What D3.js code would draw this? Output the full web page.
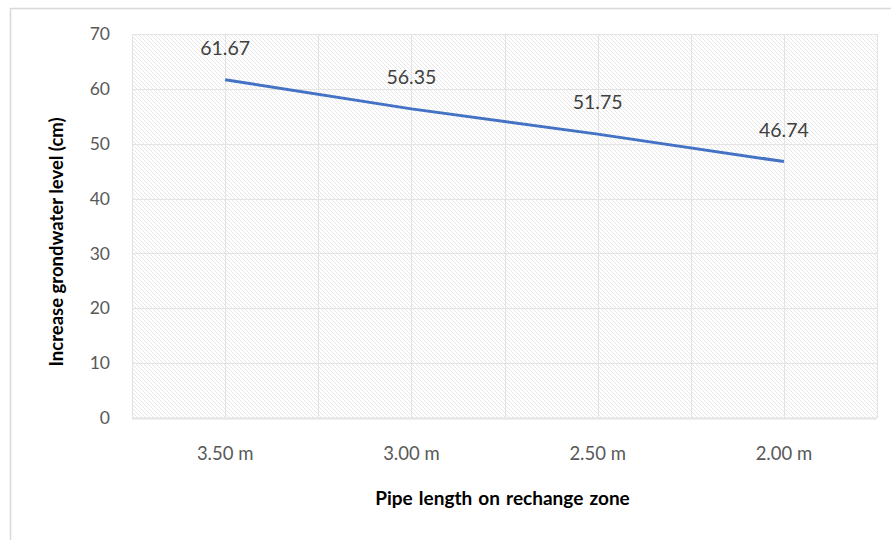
<!DOCTYPE html>
<html>
<head>
<meta charset="utf-8">
<script src="https://cdn.jsdelivr.net/npm/d3@7"></script>
<style>
  html, body { margin: 0; padding: 0; background: #fff; }
  svg { display: block; font-family: Lato, "Open Sans", sans-serif; }
</style>
</head>
<body>
<svg id="chart" width="891" height="540"></svg>
<script>
// Pipe lengths on the recharge zone and the measured groundwater rise
const categories = ["3.50 m", "3.00 m", "2.50 m", "2.00 m"];
const values = [61.67, 56.35, 51.75, 46.74];
const yTicks = [0, 10, 20, 30, 40, 50, 60, 70];

const svg = d3.select("#chart");
const W = 891, H = 540;
const plot = { left: 132, right: 877, top: 34, bottom: 418 };
const FONT = "Lato, 'Open Sans', sans-serif";

// outer frame of the chart area
svg.append("rect")
  .attr("x", 10.5).attr("y", 8.5)
  .attr("width", W + 10).attr("height", H + 10)
  .attr("fill", "#fff").attr("stroke", "#d9d9d9").attr("stroke-width", 1.5);

// light diagonal hatch fill for the plot area
const defs = svg.append("defs");
const pat = defs.append("pattern")
  .attr("id", "hatch").attr("patternUnits", "userSpaceOnUse")
  .attr("width", 4).attr("height", 4);
pat.append("rect").attr("width", 4).attr("height", 4).attr("fill", "#fff");
pat.append("path")
  .attr("d", "M-1,-1 L5,5 M-1,3 L1,5 M3,-1 L5,1")
  .attr("stroke", "#e4e4e4").attr("stroke-width", 0.9);

const x = d3.scaleBand().domain(categories)
  .range([plot.left, plot.right]).paddingInner(0).paddingOuter(0);
const y = d3.scaleLinear().domain([0, 70]).range([plot.bottom, plot.top]);

svg.append("rect")
  .attr("x", plot.left).attr("y", plot.top)
  .attr("width", plot.right - plot.left).attr("height", plot.bottom - plot.top)
  .attr("fill", "url(#hatch)");

// horizontal gridlines
svg.append("g").selectAll("line").data(yTicks).join("line")
  .attr("x1", plot.left).attr("x2", plot.right)
  .attr("y1", d => Math.round(y(d)) + 0.5).attr("y2", d => Math.round(y(d)) + 0.5)
  .attr("stroke", "#e3e3e3").attr("stroke-width", d => d === 0 ? 2 : 1);

// vertical gridlines at category edges and centres
const vLines = [];
categories.forEach(c => {
  vLines.push(x(c));
  vLines.push(x(c) + x.bandwidth() / 2);
});
vLines.push(plot.right);
svg.append("g").selectAll("line").data(vLines).join("line")
  .attr("x1", d => Math.round(d) + 0.5).attr("x2", d => Math.round(d) + 0.5)
  .attr("y1", plot.top).attr("y2", plot.bottom)
  .attr("stroke", "#e3e3e3").attr("stroke-width", 1);

// y tick labels
const yAxis = svg.append("g")
  .attr("transform", `translate(${plot.left - 22},0)`)
  .call(d3.axisLeft(y).tickValues(yTicks).tickSize(0).tickPadding(0));
yAxis.select(".domain").remove();
yAxis.selectAll("text")
  .attr("fill", "#595959").attr("font-size", 17.5)
  .style("font-family", FONT);

// x tick labels
const xAxis = svg.append("g")
  .attr("transform", `translate(0,${plot.bottom + 29})`)
  .call(d3.axisBottom(x).tickSize(0).tickPadding(0));
xAxis.select(".domain").remove();
xAxis.selectAll("text")
  .attr("fill", "#595959").attr("font-size", 18.5)
  .style("font-family", FONT);

// data line
const cx = c => x(c) + x.bandwidth() / 2;
const line = d3.line().x((d, i) => cx(categories[i])).y(d => y(d));
svg.append("path")
  .datum(values)
  .attr("d", line)
  .attr("fill", "none")
  .attr("stroke", "#4472c4")
  .attr("stroke-width", 3)
  .attr("stroke-linecap", "butt");

// value labels
svg.append("g").selectAll("text").data(values).join("text")
  .attr("x", (d, i) => cx(categories[i]))
  .attr("y", d => y(d) - 25)
  .attr("text-anchor", "middle")
  .attr("fill", "#404040").attr("font-size", 19.5)
  .style("font-family", FONT)
  .text(d => d.toFixed(2));

// axis titles
svg.append("text")
  .attr("x", (plot.left + plot.right) / 2 - 2).attr("y", 505)
  .attr("text-anchor", "middle")
  .attr("font-size", 19).attr("font-weight", "bold").attr("fill", "#000")
  .attr("word-spacing", 1.5)
  .style("font-family", FONT)
  .text("Pipe length on rechange zone");

svg.append("text")
  .attr("transform", `translate(63,${(plot.top + plot.bottom) / 2 + 16}) rotate(-90)`)
  .attr("text-anchor", "middle")
  .attr("font-size", 18.5).attr("font-weight", "bold").attr("fill", "#000")
  .style("font-family", FONT)
  .text("Increase grondwater level (cm)");
</script>
</body>
</html>
